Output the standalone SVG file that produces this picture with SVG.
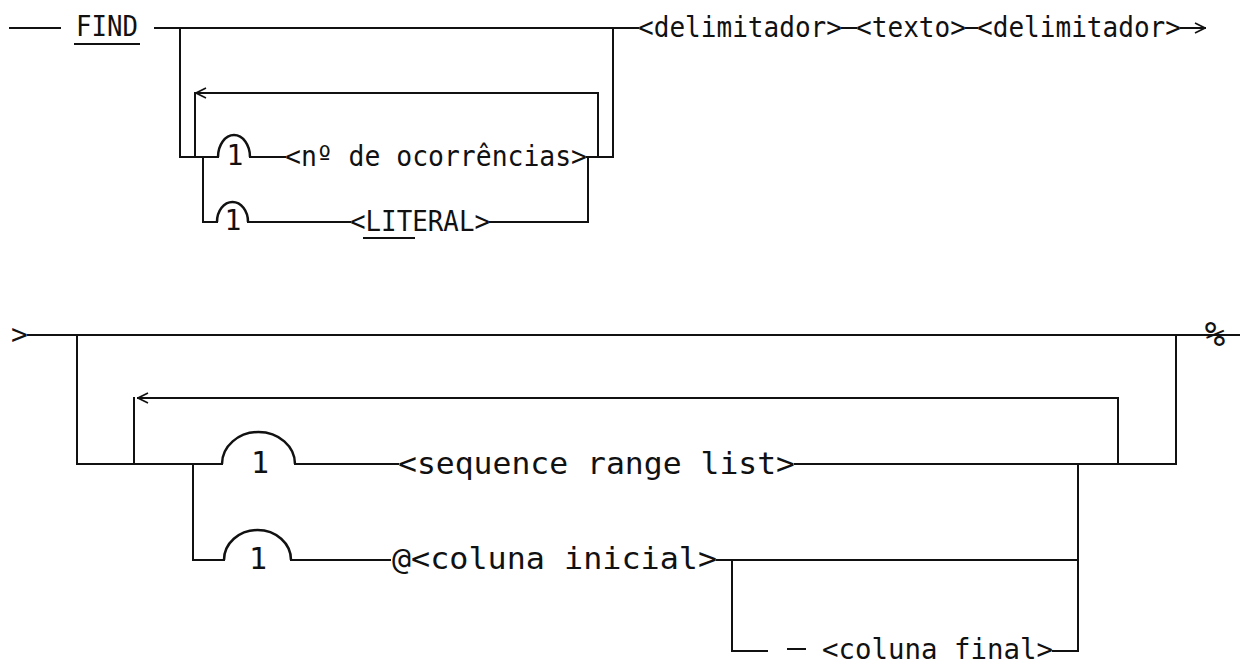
<svg xmlns="http://www.w3.org/2000/svg" width="1240" height="665" viewBox="0 0 1240 665">
<style>
  .ln { fill: none; stroke: #111; stroke-width: 2; stroke-linecap: square; }
  .t26 { font-family: "DejaVu Sans Mono", "Liberation Mono", monospace; font-size: 28px; fill: #111; }
  .t28 { font-family: "DejaVu Sans Mono", "Liberation Mono", monospace; font-size: 30px; fill: #111; }
  .pct { font-family: "DejaVu Sans Mono", "Liberation Mono", monospace; font-size: 34px; font-style: italic; fill: #111; }
  .arch { fill: none; stroke: #111; stroke-width: 2.5; }
</style>
<defs>
  <marker id="open" viewBox="0 0 12 12" refX="11" refY="6" markerWidth="12" markerHeight="12" markerUnits="userSpaceOnUse" orient="auto">
    <path d="M1,1 L11,6 L1,11" fill="none" stroke="#111" stroke-width="1.6"/>
  </marker>
</defs>
<rect width="1240" height="665" fill="#fff"/>

<g id="connectors">
  <!-- top diagram -->
  <path class="ln" d="M10,28 H60"/>
  <path class="ln" d="M155,28 H638"/>
  <path class="ln" d="M180,28 V157 H218"/>
  <path class="ln" d="M250,157 H285"/>
  <path class="ln" d="M587,157 H613 V28"/>
  <path class="ln" d="M598,157 V93 H196" marker-end="url(#open)"/>
  <path class="ln" d="M195,93 V157"/>
  <path class="ln" d="M203,157 V222 H217"/>
  <path class="ln" d="M248,222 H350"/>
  <path class="ln" d="M490,222 H588 V157"/>
  <path class="ln" d="M842,28 H856"/>
  <path class="ln" d="M966,28 H977"/>
  <path class="ln" d="M1181,28 H1205" marker-end="url(#open)"/>
  <!-- bottom diagram -->
  <path class="ln" d="M28,335 H1240"/>
  <path class="ln" d="M77,335 V464 H222"/>
  <path class="ln" d="M295,464 H398"/>
  <path class="ln" d="M795,464 H1176 V335"/>
  <path class="ln" d="M1118,464 V398 H138" marker-end="url(#open)"/>
  <path class="ln" d="M134,398 V464"/>
  <path class="ln" d="M193,464 V560 H224"/>
  <path class="ln" d="M291,560 H390"/>
  <path class="ln" d="M717,560 H1078"/>
  <path class="ln" d="M1078,464 V651 H1053"/>
  <path class="ln" d="M732,560 V651 H767"/>
  <path class="ln" d="M788,649 H805"/>
</g>

<g id="node-find">
  <text class="t26" x="76" y="36" textLength="62" lengthAdjust="spacingAndGlyphs">FIND</text>
  <path class="ln" d="M75,44 H139"/>
</g>
<g id="node-arch-top1">
  <path class="arch" d="M218,157 A16,22 0 0 1 250,157"/>
  <text class="t26" x="235" y="165" text-anchor="middle">1</text>
</g>
<g id="node-ocorrencias">
  <text class="t26" x="285" y="166" textLength="302" lengthAdjust="spacingAndGlyphs">&lt;nº de ocorrências&gt;</text>
</g>
<g id="node-arch-top2">
  <path class="arch" d="M217,222 A15.5,20 0 0 1 248,222"/>
  <text class="t26" x="233" y="230" text-anchor="middle">1</text>
</g>
<g id="node-literal">
  <text class="t26" x="350" y="231" textLength="140" lengthAdjust="spacingAndGlyphs">&lt;LITERAL&gt;</text>
  <path class="ln" d="M364,238 H414"/>
</g>
<g id="node-delim1">
  <text class="t26" x="638" y="37" textLength="204" lengthAdjust="spacingAndGlyphs">&lt;delimitador&gt;</text>
</g>
<g id="node-texto">
  <text class="t26" x="856" y="37" textLength="110" lengthAdjust="spacingAndGlyphs">&lt;texto&gt;</text>
</g>
<g id="node-delim2">
  <text class="t26" x="977" y="37" textLength="204" lengthAdjust="spacingAndGlyphs">&lt;delimitador&gt;</text>
</g>

<g id="node-start2">
  <text class="t26" x="11" y="344">&gt;</text>
</g>
<g id="node-end2">
  <text class="pct" x="1215" y="346" text-anchor="middle">%</text>
</g>
<g id="node-arch-bot1">
  <path class="arch" d="M222,464 A36.5,32 0 0 1 295,464"/>
  <text class="t28" x="260" y="473" text-anchor="middle">1</text>
</g>
<g id="node-seqrange">
  <text class="t28" x="398" y="474" textLength="397" lengthAdjust="spacingAndGlyphs">&lt;sequence range list&gt;</text>
</g>
<g id="node-arch-bot2">
  <path class="arch" d="M224,560 A33.5,30 0 0 1 291,560"/>
  <text class="t28" x="258" y="569" text-anchor="middle">1</text>
</g>
<g id="node-colini">
  <text class="t28" x="392" y="569" textLength="325" lengthAdjust="spacingAndGlyphs">@&lt;coluna inicial&gt;</text>
</g>
<g id="node-colfin">
  <text class="t26" x="822" y="659" textLength="231" lengthAdjust="spacingAndGlyphs">&lt;coluna final&gt;</text>
</g>
</svg>
